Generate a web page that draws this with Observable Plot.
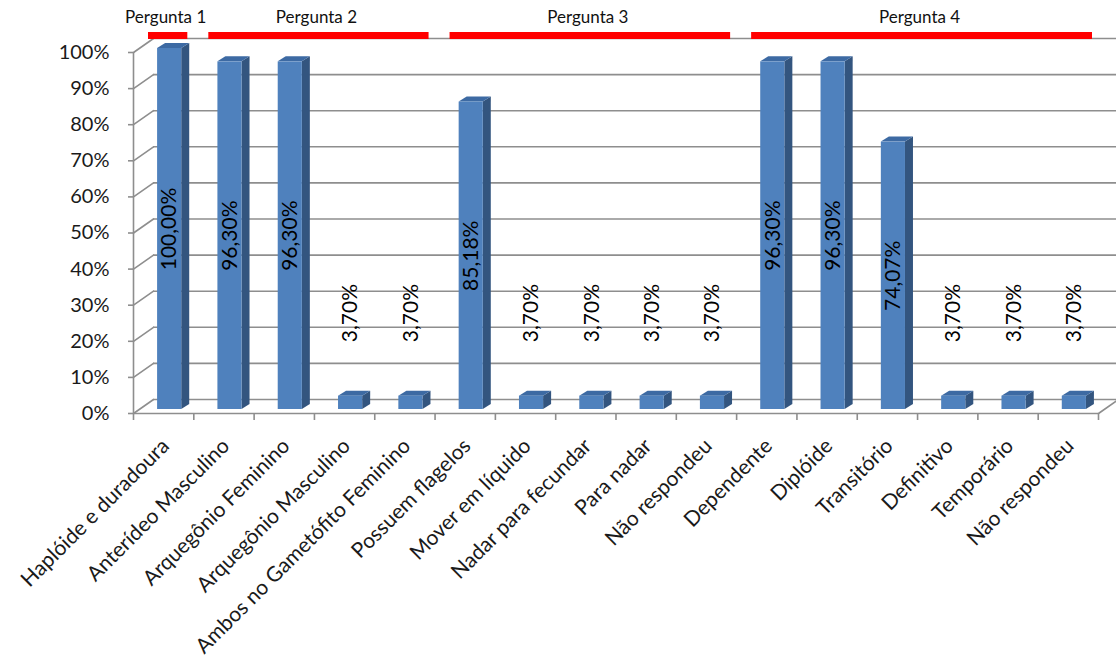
<!DOCTYPE html>
<html>
<head>
<meta charset="utf-8">
<script src="https://cdn.jsdelivr.net/npm/d3@7"></script>
<script src="https://cdn.jsdelivr.net/npm/@observablehq/plot@0.6"></script>
<style>
  body { margin: 0; background: #ffffff; }
  #chart svg { display: block; }
</style>
</head>
<body>
<div id="chart"></div>
<script>
// Answer categories, in the order they appear along the axis
const categories = [
  "Haplóide e duradoura",
  "Anterídeo Masculino",
  "Arquegônio Feminino",
  "Arquegônio Masculino",
  "Ambos no Gametófito Feminino",
  "Possuem flagelos",
  "Mover em líquido",
  "Nadar para fecundar",
  "Para nadar",
  "Não respondeu",
  "Dependente",
  "Diplóide",
  "Transitório",
  "Definitivo",
  "Temporário",
  "Não respondeu"
];

// Share of answers (%) for each category
const values = [100.00, 96.30, 96.30, 3.70, 3.70, 85.18, 3.70, 3.70, 3.70, 3.70, 96.30, 96.30, 74.07, 3.70, 3.70, 3.70];

// Percentage ticks on the value axis
const yTicks = [0, 10, 20, 30, 40, 50, 60, 70, 80, 90, 100];

// Question groups: label plus first and last category index covered
const questions = ["Pergunta 1", "Pergunta 2", "Pergunta 3", "Pergunta 4"];
const questionFirst = [0, 1, 5, 10];
const questionLast = [0, 4, 9, 15];

const bars = values.map((v, i) => ({i, value: v, label: categories[i]}));
const groups = questions.map((q, k) => ({name: q, first: questionFirst[k], last: questionLast[k]}));

// 3D look: back wall offset, bar placement depth and bar thickness
const wallDx = 20, wallDy = -14;
const barDx = 6, barDy = -4;
const sideDx = 8, sideDy = -5;

const FRONT = "#4F81BD", SIDE = "#33557F", TOP = "#3D6AA3";
const GRID = "#8e8e8e";
const FONT = "Lato, 'Open Sans', sans-serif";

const fmt = v => v.toFixed(2).replace(".", ",") + "%";

// Straight segment used for the receding wall/floor edges
const edge = {draw(context, l) { context.moveTo(0, 0); context.lineTo(0, -l); }};

// Draws each bar as front face, side face and top face
function bar3d(index, scales, ch) {
  const g = d3.create("svg:g");
  for (const i of index) {
    const l = ch.x1[i] + barDx, r = ch.x2[i] + barDx;
    const b = ch.y1[i] + barDy, t = ch.y2[i] + barDy;
    g.append("path")
      .attr("fill", SIDE)
      .attr("d", `M${r},${b}L${r + sideDx},${b + sideDy}L${r + sideDx},${t + sideDy}L${r},${t}Z`);
    g.append("path")
      .attr("fill", TOP)
      .attr("d", `M${l},${t}L${l + sideDx},${t + sideDy}L${r + sideDx},${t + sideDy}L${r},${t}Z`);
    g.append("rect")
      .attr("fill", FRONT)
      .attr("x", l).attr("y", t)
      .attr("width", r - l).attr("height", b - t);
  }
  return g.node();
}

const chart = Plot.plot({
  width: 1116,
  height: 666,
  marginLeft: 133,
  marginRight: 18,
  marginTop: 52,
  marginBottom: 253,
  style: {fontFamily: FONT, background: "#ffffff"},
  x: {type: "linear", domain: [0, categories.length], axis: null},
  y: {domain: [0, 100], axis: null},
  marks: [
    // back wall gridlines
    Plot.ruleY(yTicks, {x1: 0, x2: categories.length, dx: wallDx, dy: wallDy, stroke: GRID, strokeWidth: 1.6}),
    // left wall receding lines
    Plot.vector(yTicks, {
      x: 0, y: d => d, anchor: "start",
      length: Math.hypot(wallDx, wallDy),
      rotate: Math.atan2(wallDx, -wallDy) * 180 / Math.PI,
      shape: edge, stroke: GRID, strokeWidth: 1.6
    }),
    // floor right edge
    Plot.vector([0], {
      x: categories.length, y: 0, anchor: "start",
      length: Math.hypot(wallDx, wallDy),
      rotate: Math.atan2(wallDx, -wallDy) * 180 / Math.PI,
      shape: edge, stroke: GRID, strokeWidth: 1.6
    }),
    // floor front edge and left axis line
    Plot.ruleY([0], {x1: 0, x2: categories.length, stroke: GRID, strokeWidth: 1.6}),
    Plot.ruleX([0], {y1: 0, y2: 100, stroke: GRID, strokeWidth: 1.6}),
    // question brackets
    Plot.ruleY(groups, {
      y: 100, x1: d => d.first, x2: d => d.last + 1,
      dx: 8, dy: -17, insetLeft: 7, insetRight: 14,
      stroke: "#ff0000", strokeWidth: 7
    }),
    Plot.text(groups, {
      x: d => (d.first + d.last + 1) / 2, y: 100, text: "name",
      dx: 2, dy: -35, fontSize: 17, fill: "#111"
    }),
    // bars
    Plot.rect(bars, {
      x1: d => d.i + 0.3, x2: d => d.i + 0.7, y1: 0, y2: "value",
      render: bar3d
    }),
    // value axis
    Plot.axisY(yTicks, {
      tickFormat: d => d + "%", tickSize: 5, tickPadding: 19,
      fontSize: 20, stroke: GRID, strokeWidth: 1.6, fill: "#1a1a1a", label: null
    }),
    // category boundary ticks
    Plot.axisX(d3.range(categories.length + 1), {
      tickFormat: () => "", tickSize: 7, stroke: GRID, strokeWidth: 1.6, label: null
    }),
    // category labels
    Plot.text(bars, {
      x: d => d.i + 0.5, y: 0, text: "label",
      rotate: -45, textAnchor: "end", dx: 2, dy: 29,
      fontSize: 21, fill: "#1a1a1a"
    }),
    // value labels inside the tall bars
    Plot.text(bars.filter(d => d.value >= 10), {
      x: d => d.i + 0.5, y: d => d.value / 2, text: d => fmt(d.value),
      rotate: -90, dx: barDx, dy: barDy, fontSize: 21, fill: "#000"
    }),
    // value labels above the short bars
    Plot.text(bars.filter(d => d.value < 10), {
      x: d => d.i + 0.5, y: "value", text: d => fmt(d.value),
      rotate: -90, textAnchor: "start", dx: barDx, dy: -58, fontSize: 21, fill: "#000"
    })
  ]
});

document.getElementById("chart").append(chart);
</script>
</body>
</html>
